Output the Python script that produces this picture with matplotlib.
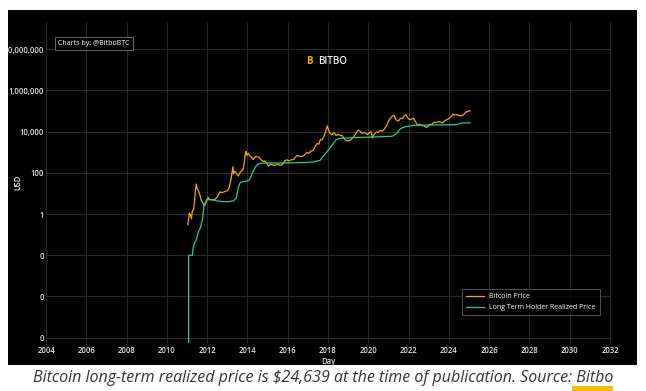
import matplotlib
matplotlib.use('Agg')
import matplotlib.pyplot as plt
from matplotlib.patches import Rectangle
from matplotlib.ticker import FixedLocator, FuncFormatter

plt.rcParams['font.family'] = ['Open Sans', 'DejaVu Sans']

# Bitcoin price (decimal year, USD)
price_years = [2011.04, 2011.08, 2011.12, 2011.17, 2011.22, 2011.27, 2011.33, 2011.38, 2011.42, 2011.46,
               2011.50, 2011.55, 2011.60, 2011.65, 2011.70, 2011.78, 2011.85, 2011.90, 2011.96,
               2012.05, 2012.12, 2012.20, 2012.30, 2012.40, 2012.50, 2012.60, 2012.65, 2012.70, 2012.80, 2012.90,
               2013.00, 2013.10, 2013.18, 2013.25, 2013.28, 2013.31, 2013.35, 2013.42, 2013.50, 2013.55, 2013.62,
               2013.70, 2013.78, 2013.84, 2013.90, 2013.93, 2013.97,
               2014.05, 2014.10, 2014.18, 2014.28, 2014.38, 2014.45, 2014.55, 2014.65, 2014.75, 2014.85, 2014.95,
               2015.04, 2015.10, 2015.20, 2015.30, 2015.40, 2015.50, 2015.60, 2015.70, 2015.80, 2015.85, 2015.95,
               2016.05, 2016.15, 2016.30, 2016.45, 2016.55, 2016.70, 2016.80, 2016.95,
               2017.05, 2017.15, 2017.25, 2017.35, 2017.45, 2017.55, 2017.62, 2017.70, 2017.80, 2017.88, 2017.96,
               2018.04, 2018.10, 2018.20, 2018.30, 2018.40, 2018.50, 2018.60, 2018.70, 2018.85, 2018.95,
               2019.10, 2019.25, 2019.40, 2019.50, 2019.60, 2019.70, 2019.80, 2019.95,
               2020.05, 2020.15, 2020.20, 2020.30, 2020.40, 2020.50, 2020.60, 2020.70, 2020.80, 2020.90,
               2021.00, 2021.10, 2021.20, 2021.28, 2021.38, 2021.50, 2021.60, 2021.70, 2021.80, 2021.86, 2021.95,
               2022.05, 2022.15, 2022.25, 2022.35, 2022.45, 2022.55, 2022.65, 2022.75, 2022.85, 2022.95,
               2023.05, 2023.15, 2023.25, 2023.35, 2023.50, 2023.60, 2023.70, 2023.80, 2023.90,
               2024.00, 2024.10, 2024.20, 2024.30, 2024.40, 2024.50, 2024.60, 2024.70, 2024.85, 2024.95, 2025.05]
price_usd = [0.3, 0.6, 1.1, 0.9, 0.6, 1.5, 1.6, 5, 15, 29,
             17, 15, 11, 8, 5, 3.5, 2.5, 2.9, 4.2,
             6.5, 5, 4.9, 5.0, 5.3, 6.7, 10.5, 12, 11, 11.5, 12.5,
             13.5, 20, 45, 130, 200, 90, 120, 110, 80, 70, 100,
             120, 140, 300, 900, 1100, 700,
             900, 700, 600, 450, 600, 620, 580, 470, 360, 380, 320,
             210, 240, 260, 230, 240, 270, 230, 240, 310, 380, 430,
             380, 420, 450, 700, 650, 610, 700, 960,
             900, 1150, 1200, 1800, 2600, 2500, 4200, 4000, 6000, 10000, 19000,
             11000, 8500, 7000, 9000, 6500, 7500, 6500, 6500, 4000, 3500,
             3800, 5200, 8500, 12000, 10500, 8300, 9200, 7200,
             9000, 9800, 5000, 7500, 9500, 9200, 11500, 10500, 13500, 19000,
             32000, 45000, 58000, 63000, 37000, 33000, 45000, 43000, 61000, 66000, 48000,
             38000, 40000, 45000, 30000, 20000, 23000, 20000, 19500, 16500, 16800,
             23000, 22000, 28000, 27500, 30500, 29000, 26500, 34500, 38000,
             43000, 52000, 70000, 64000, 67000, 60000, 58000, 63000, 90000, 97000, 104000]

# Long term holder realized price
lth_years = [2011.08, 2011.08, 2011.27, 2011.30, 2011.38, 2011.47, 2011.58, 2011.67, 2011.77, 2011.85, 2011.99,
             2012.20, 2012.50, 2012.80, 2013.00, 2013.30, 2013.45, 2013.55, 2013.65, 2013.90,
             2014.10, 2014.25, 2014.40, 2014.55, 2014.75, 2015.50, 2016.50, 2017.20, 2017.60, 2017.80,
             2018.00, 2018.20, 2018.40, 2018.60, 2019.50, 2020.50, 2021.20, 2021.40, 2021.60, 2021.80,
             2022.20, 2023.00, 2024.00, 2024.40, 2024.60, 2025.05]
lth_usd = [1e-7, 0.01, 0.01, 0.022, 0.04, 0.06, 0.15, 0.22, 0.6, 2.8, 5,
           5.0, 4.3, 4.0, 4.0, 4.3, 6, 20, 35, 38,
           45, 100, 200, 270, 300, 300, 310, 330, 400, 700,
           1200, 2200, 4000, 4800, 5200, 5600, 6000, 8000, 14000, 17000,
           20000, 21000, 21500, 22000, 26000, 27000]

y_ticks = [1e-6, 1e-4, 1e-2, 1, 1e2, 1e4, 1e6, 1e8]
x_ticks = list(range(2004, 2033, 2))

fig = plt.figure(figsize=(6.46, 3.91), dpi=100)
fig.patch.set_facecolor('white')
panel = Rectangle((8 / 646, 1 - 365 / 391), 629 / 646, 355 / 391,
                  transform=fig.transFigure, facecolor='black', edgecolor='none', zorder=-10)
fig.patches.append(panel)

ax = fig.add_axes([46 / 646, 1 - 343 / 391, 565 / 646, 321 / 391])
ax.set_facecolor('black')
ax.plot(price_years, price_usd, color='#f2a900', lw=0.9, label='Bitcoin Price')
ax.plot(lth_years, lth_usd, color='#1fd28c', lw=0.9, label='Long Term Holder Realized Price')
ax.set_yscale('log')
ax.set_xlim(2004, 2032.05)
ax.set_ylim(5.5e-7, 2.1e9)
ax.yaxis.set_major_locator(FixedLocator(y_ticks))
ax.yaxis.set_minor_locator(FixedLocator([]))
ax.yaxis.set_major_formatter(FuncFormatter(lambda v, p: '{:,.0f}'.format(v)))
ax.set_xticks(x_ticks)
ax.grid(True, color='#333333', lw=0.6)
for s in ax.spines.values():
    s.set_visible(False)
ax.tick_params(colors='#e6e6e6', labelsize=5.5, length=0)
ax.tick_params(axis='x', pad=2.5)
ax.tick_params(axis='y', pad=1.5)
for lbl in ax.get_xticklabels() + ax.get_yticklabels():
    lbl.set_fontweight('semibold')
ax.set_xlabel('Day', color='#e6e6e6', fontsize=5.5, labelpad=1, fontweight='semibold')
ax.set_ylabel('USD', color='#e6e6e6', fontsize=5.5, fontweight='semibold')
ax.yaxis.set_label_coords(-0.042, 0.5)

leg = ax.legend(loc='lower right', bbox_to_anchor=(0.986, 0.076), fontsize=5, frameon=True,
                facecolor='black', edgecolor='#777777', labelcolor='white', handlelength=2.5,
                borderpad=0.6, labelspacing=0.5, fancybox=False)
leg.get_frame().set_linewidth(0.6)

ax.text(0.022, 0.933, 'Charts by: @BitboBTC', transform=ax.transAxes, fontsize=5, color='white',
        va='center', bbox=dict(facecolor='black', edgecolor='#777777', lw=0.6, boxstyle='square,pad=0.5'))
fig.text(309 / 646, 1 - 61 / 391, 'B', color='#f2a900', fontsize=7, fontweight='bold', ha='center', va='center')
fig.text(318 / 646, 1 - 61 / 391, 'BITBO', color='#eeeeee', fontsize=7, fontweight='semibold', va='center')

fig.text(323 / 646, 1 - 378 / 391,
         'Bitcoin long-term realized price is $24,639 at the time of publication. Source: Bitbo',
         ha='center', va='center', fontsize=11.5, style='italic', color='#333333')
fig.patches.append(Rectangle((572 / 646, 0), 41 / 646, 5 / 391, transform=fig.transFigure,
                             facecolor='#fbbd08', edgecolor='none'))

fig.canvas.draw()
for lbl in ax.get_yticklabels():
    lbl.set_clip_path(panel)

fig.savefig('out.png', dpi=100, facecolor='white')
